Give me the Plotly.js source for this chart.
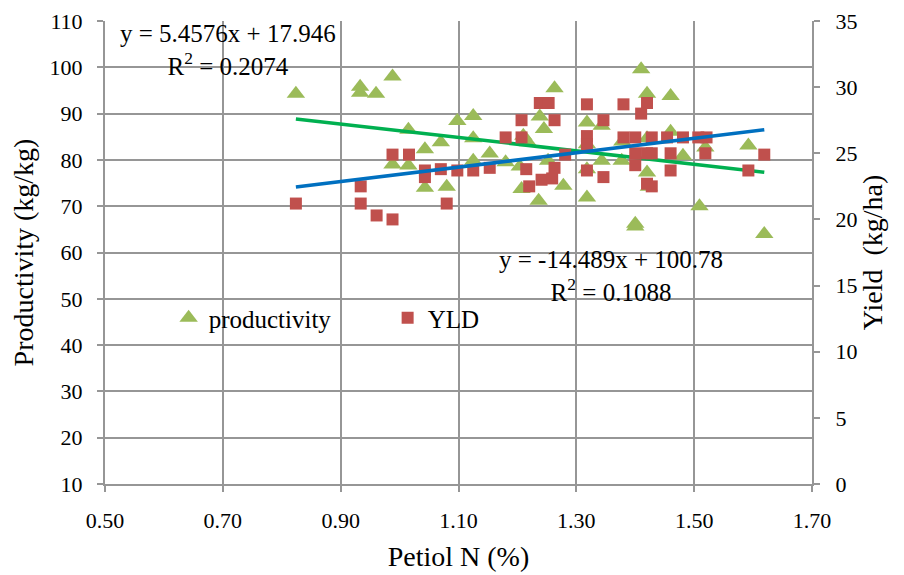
<!DOCTYPE html>
<html>
<head>
<meta charset="utf-8">
<script src="https://cdn.plot.ly/plotly-3.0.1.min.js"></script>
<style>html,body{margin:0;padding:0;background:#fff;}#chart{width:904px;height:575px;}</style>
</head>
<body>
<div id="chart"></div>
<script>
// Productivity (kg/kg) vs Petiol N (%)
const prodX = [0.824,0.933,0.933,0.960,0.988,0.988,1.015,1.015,1.043,1.043,1.070,1.080,1.098,1.125,1.125,1.125,1.153,1.180,1.207,1.210,1.218,1.204,1.238,1.245,1.263,1.236,1.278,1.252,1.318,1.318,1.343,1.318,1.343,1.318,1.377,1.378,1.410,1.420,1.460,1.420,1.460,1.481,1.519,1.420,1.423,1.592,1.509,1.400,1.400,1.619];
const prodY = [94.3,95.8,94.5,94.3,98.0,79.0,86.5,78.8,82.3,74.0,83.8,74.2,88.4,89.5,84.7,79.8,81.4,79.5,73.7,85.2,83.8,78.6,89.4,86.7,95.5,71.2,74.4,79.8,71.9,88.1,87.4,83.4,79.8,78.0,79.8,84.0,99.6,94.3,93.8,84.7,86.1,80.9,82.7,77.3,74.2,83.1,70.0,66.2,65.6,64.0];
// Yield (kg/ha) vs Petiol N (%)
const yldX = [0.824,0.934,0.934,0.961,0.988,0.988,1.016,1.043,1.043,1.070,1.080,1.098,1.125,1.153,1.180,1.207,1.207,1.215,1.220,1.238,1.253,1.263,1.241,1.259,1.263,1.281,1.318,1.318,1.318,1.318,1.346,1.346,1.380,1.380,1.400,1.428,1.454,1.481,1.507,1.521,1.410,1.420,1.400,1.420,1.428,1.460,1.519,1.400,1.460,1.420,1.428,1.592,1.619];
const yldY = [21.2,22.5,21.2,20.3,20.0,24.9,24.9,23.7,23.2,23.8,21.2,23.7,23.7,23.9,26.2,27.5,26.2,23.8,22.5,28.8,28.8,27.5,23.0,23.1,23.9,24.9,28.7,26.3,25.7,23.7,27.5,23.2,28.7,26.2,26.2,26.2,26.2,26.2,26.2,26.2,28.0,28.8,25.0,25.0,25.0,25.0,25.0,24.1,23.7,22.7,22.5,23.7,24.9];
// Linear trendlines as printed on the chart
const yldFit = {slope: 5.4576, intercept: 17.946, r2: 0.2074};
const prodFit = {slope: -14.489, intercept: 100.78, r2: 0.1088};
const xTicks = [0.50,0.70,0.90,1.10,1.30,1.50,1.70];
const xTickLabels = ["0.50","0.70","0.90","1.10","1.30","1.50","1.70"];

const fitX = [Math.min(...prodX, ...yldX), Math.max(...prodX, ...yldX)];
const prodFitY = fitX.map(x => prodFit.slope*x + prodFit.intercept);
const yldFitY = fitX.map(x => yldFit.slope*x + yldFit.intercept);

const FONT = "Liberation Serif";
const GRID = "rgb(150,150,150)";

const traces = [
  {x: prodX, y: prodY, type: 'scatter', mode: 'markers', name: 'productivity',
   marker: {symbol: 'triangle-up', size: 16, color: '#9BBB59', line: {width: 0}}},
  {x: yldX, y: yldY, type: 'scatter', mode: 'markers', name: 'YLD', yaxis: 'y2',
   marker: {symbol: 'square', size: 12, color: '#C0504D', line: {width: 0}}},
  {x: fitX, y: prodFitY, type: 'scatter', mode: 'lines', showlegend: false,
   line: {color: '#00B050', width: 3.5}},
  {x: fitX, y: yldFitY, type: 'scatter', mode: 'lines', showlegend: false, yaxis: 'y2',
   line: {color: '#0070C0', width: 3.5}}
];

const eqText = f => 'y = ' + f.slope + 'x + ' + f.intercept + '<br>R<sup>2</sup> = ' + f.r2;

const layout = {
  width: 904, height: 575,
  margin: {l: 105, r: 92, t: 21, b: 91},
  paper_bgcolor: '#fff', plot_bgcolor: '#fff',
  font: {family: FONT, color: '#000', size: 22},
  showlegend: true,
  legend: {orientation: 'h', x: 0.09, y: 0.3585, xanchor: 'left', yanchor: 'middle',
           font: {family: FONT, size: 25, color: '#000'}, bgcolor: 'rgba(0,0,0,0)',
           entrywidth: 174, entrywidthmode: 'pixels'},
  xaxis: {range: [0.5, 1.7], tickmode: 'array', tickvals: xTicks, ticktext: xTickLabels,
          showgrid: true, gridcolor: GRID, gridwidth: 2, zeroline: false,
          showline: true, linecolor: GRID, linewidth: 2,
          ticks: 'outside', ticklen: 6, tickcolor: GRID, tickwidth: 2, ticklabelstandoff: 10,
          tickfont: {family: FONT, size: 22, color: '#000'},
          title: {text: 'Petiol N (%)', font: {family: FONT, size: 28, color: '#000'}, standoff: 14}},
  yaxis: {range: [10, 110], dtick: 10, tick0: 10,
          showgrid: true, gridcolor: GRID, gridwidth: 2, zeroline: false,
          showline: true, linecolor: GRID, linewidth: 2,
          ticks: 'outside', ticklen: 6, tickcolor: GRID, tickwidth: 2, ticklabelstandoff: 10,
          tickfont: {family: FONT, size: 22, color: '#000'},
          title: {text: 'Productivity (kg/kg)', font: {family: FONT, size: 28, color: '#000'}, standoff: 8}},
  yaxis2: {range: [0, 35], dtick: 5, tick0: 0, overlaying: 'y', side: 'right',
           showgrid: false, zeroline: false,
           showline: true, linecolor: GRID, linewidth: 2,
           ticks: 'outside', ticklen: 6, tickcolor: GRID, tickwidth: 2,
           tickprefix: '\u00a0\u00a0',
           tickfont: {family: FONT, size: 22, color: '#000'},
           title: {text: 'Yield  (kg/ha)', font: {family: FONT, size: 28, color: '#000'}, standoff: 6}},
  annotations: [
    {x: 0.708, y: 103.7, xref: 'x', yref: 'y', text: eqText(yldFit),
     showarrow: false, align: 'center', font: {family: FONT, size: 25, color: '#000'}},
    {x: 1.358, y: 54.9, xref: 'x', yref: 'y', text: eqText(prodFit),
     showarrow: false, align: 'center', font: {family: FONT, size: 25, color: '#000'}}
  ]
};

Plotly.newPlot('chart', traces, layout, {displayModeBar: false, staticPlot: true});
</script>
</body>
</html>
